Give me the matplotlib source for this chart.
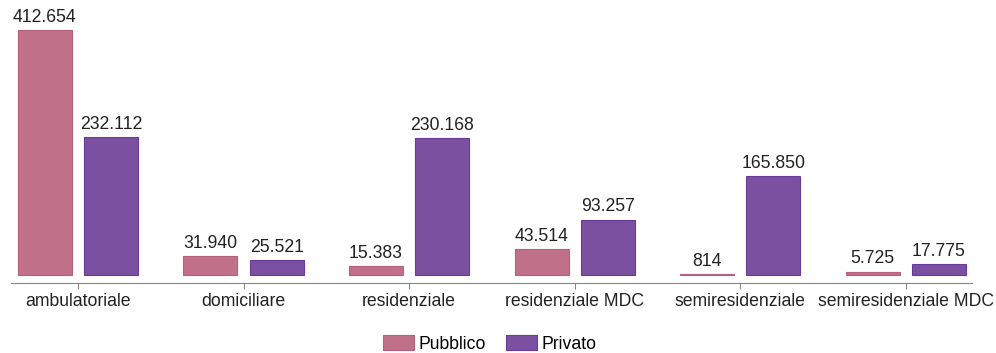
import matplotlib.pyplot as plt
import numpy as np

plt.rcParams['font.family'] = ['Liberation Sans', 'DejaVu Sans']

categories = ["ambulatoriale", "domiciliare", "residenziale",
              "residenziale MDC", "semiresidenziale", "semiresidenziale MDC"]
pubblico = [412654, 31940, 15383, 43514, 814, 5725]
privato = [232112, 25521, 230168, 93257, 165850, 17775]


def fmt(v):
    return f"{v:,}".replace(",", ".")


fig = plt.figure(figsize=(9.96, 3.53), dpi=100)
ax = fig.add_axes([11 / 996, 70 / 353, 961 / 996, 283 / 353])

x = np.arange(len(categories))
w = 0.326
b1 = ax.bar(x - 0.2, pubblico, w, color="#c07089", edgecolor="#b5607c",
            linewidth=0.8, label="Pubblico")
b2 = ax.bar(x + 0.2, privato, w, color="#7c50a1", edgecolor="#6a3a96",
            linewidth=0.8, label="Privato")

for bars, vals in ((b1, pubblico), (b2, privato)):
    for r, v in zip(bars, vals):
        ax.annotate(fmt(v), (r.get_x() + r.get_width() / 2, v),
                    xytext=(0, 3), textcoords="offset points",
                    ha="center", va="bottom", fontsize=12.7, color="#222222")

ax.set_xlim(-0.405, 5.4)
ax.set_ylim(-13500, 463000)
ax.set_xticks(x)
ax.set_xticklabels(categories, fontsize=12.7, color="#222222")
ax.tick_params(axis="x", length=4, color="#888888", pad=3)
ax.set_yticks([])
for s in ("top", "right", "left"):
    ax.spines[s].set_visible(False)
ax.spines["bottom"].set_color("#888888")

fig.legend(loc="center", bbox_to_anchor=(490 / 996, 1 - 344 / 353), ncol=2,
           frameon=False, fontsize=12.7, handlelength=1.75, handleheight=0.9,
           handletextpad=0.25, columnspacing=1.15)

plt.savefig("out.png", dpi=100)
